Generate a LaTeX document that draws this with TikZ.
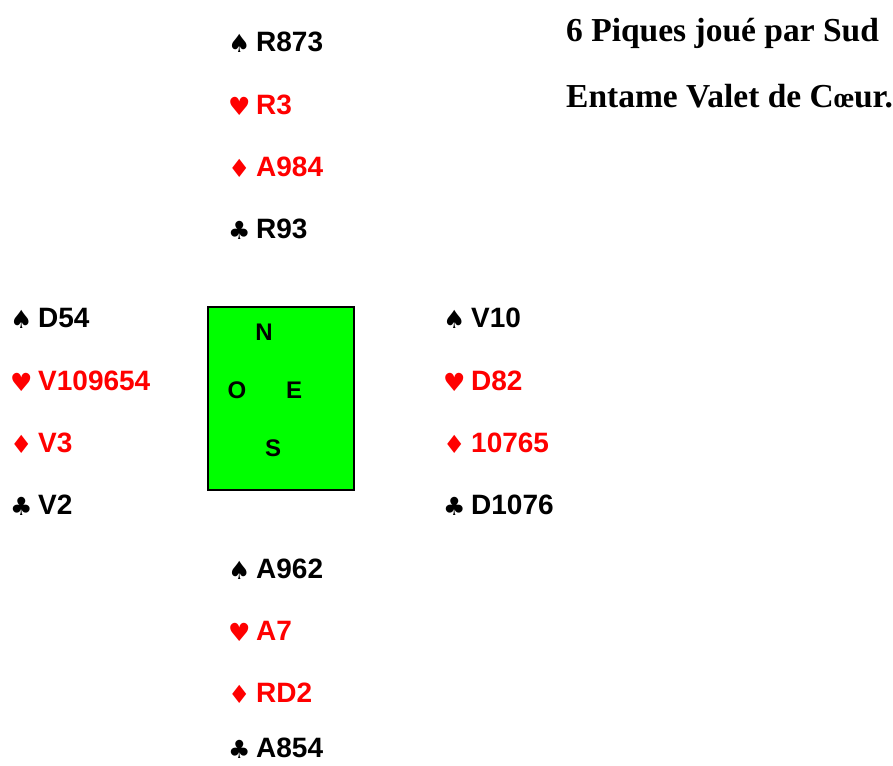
\documentclass[tikz,border=0pt]{standalone}
\usepackage{fontspec}
\usepackage{tikz}
\newfontfamily\cardfont{Liberation Sans}
\newfontfamily\suitfont{DejaVu Sans}
\newfontfamily\titlefont{Liberation Serif}
\definecolor{tablegreen}{RGB}{0,255,0}
\newcommand{\couleur}[1]{\makebox[28pt][l]{\suitfont\fontsize{25}{26}\selectfont\raisebox{-1pt}{#1}}}
\newcommand{\pique}{\couleur{♠}}
\newcommand{\coeur}{\couleur{♥}}
\newcommand{\carreau}{\couleur{♦}}
\newcommand{\trefle}{\couleur{♣}}
\tikzset{
  hand/.style={anchor=base west, inner sep=0pt, font=\cardfont\bfseries\fontsize{28}{30}\selectfont},
  redhand/.style={hand, text=red},
  compass/.style={anchor=base, inner sep=0pt, font=\cardfont\bfseries\fontsize{24}{26}\selectfont},
  titre/.style={anchor=base west, inner sep=0pt, font=\titlefont\bfseries\fontsize{33.5}{36}\selectfont}
}
\begin{document}
\begin{tikzpicture}[x=1pt, y=-1pt]
    \useasboundingbox (0,0) rectangle (893,765);
    % contrat
    \node[titre] (contrat) at (566,42) {6 Piques joué par Sud};
    \node[titre] (entame) at (566,108) {Entame Valet de C{\fontsize{28}{30}\selectfont œ}ur.};
    % Nord
    \node[hand] (n1) at (228,52) {\pique R873};
    \node[redhand] (n2) at (228,114) {\coeur R3};
    \node[redhand] (n3) at (228,176) {\carreau A984};
    \node[hand] (n4) at (228,238) {\trefle R93};
    % Ouest
    \node[hand] (o1) at (10,327) {\pique D54};
    \node[redhand] (o2) at (10,390) {\coeur V109654};
    \node[redhand] (o3) at (10,452) {\carreau V3};
    \node[hand] (o4) at (10,514) {\trefle V2};
    % table
    \node[draw, line width=2pt, fill=tablegreen, minimum width=146pt, minimum height=183pt, inner sep=0pt] (table) at (281,398.5) {};
    \node[compass] (nord) at (264,340) {N};
    \node[compass] (ouest) at (237,398) {O};
    \node[compass] (est) at (294,398) {E};
    \node[compass] (sud) at (273,456) {S};
    % Est
    \node[hand] (e1) at (443,327) {\pique V10};
    \node[redhand] (e2) at (443,390) {\coeur D82};
    \node[redhand] (e3) at (443,452) {\carreau 10765};
    \node[hand] (e4) at (443,514) {\trefle D1076};
    % Sud
    \node[hand] (s1) at (228,578) {\pique A962};
    \node[redhand] (s2) at (228,640) {\coeur A7};
    \node[redhand] (s3) at (228,702) {\carreau RD2};
    \node[hand] (s4) at (228,757) {\trefle A854};
\end{tikzpicture}
\end{document}
